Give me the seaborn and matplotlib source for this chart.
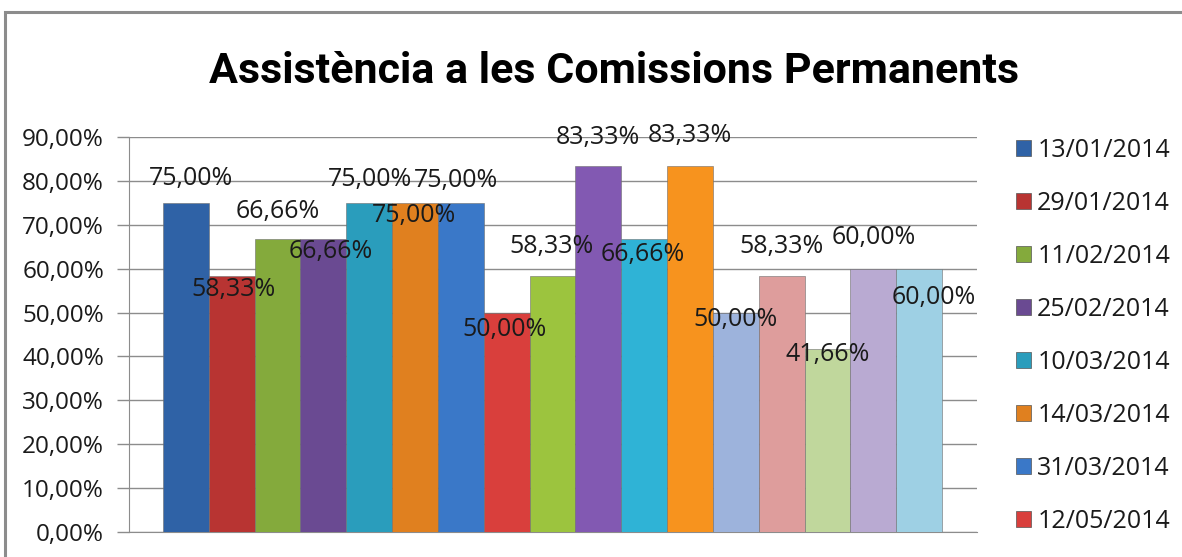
import matplotlib
matplotlib.use("Agg")
import matplotlib.pyplot as plt
import seaborn as sns
import pandas as pd
from matplotlib.patches import Rectangle
from matplotlib.ticker import FuncFormatter

# ---- data ----
legend_dates = ["13/01/2014", "29/01/2014", "11/02/2014", "25/02/2014",
                "10/03/2014", "14/03/2014", "31/03/2014", "12/05/2014"]
bar_ids = [f"S{i+1}" for i in range(17)]
values = [75.00, 58.33, 66.66, 66.66, 75.00, 75.00, 75.00, 50.00, 58.33,
          83.33, 66.66, 83.33, 50.00, 58.33, 41.66, 60.00, 60.00]
y_ticks = [0, 10, 20, 30, 40, 50, 60, 70, 80, 90]
title = "Assistència a les Comissions Permanents"

# ---- style ----
colors = ["#2F62A6", "#B83432", "#84AA3C", "#6A4A92", "#2A9DBC", "#E0801F",
          "#3A78C8", "#D93F3C", "#9CC43E", "#8259B2", "#2FB3D6", "#F7931E",
          "#9DB3DC", "#DE9D9C", "#C0D79C", "#B9AAD2", "#9ED0E4"]
label_dx = [5, 2, 0, 7, 1, -1, -5, -2, -1, -1, -1, 0, 0, 0, 0, 0, 15]
label_dy = [24, -14, 28, -12, 23, -13, 22, -17, 29, 29, -15, 31, -7, 29, -5, 31, -29]
FONT = ["Open Sans", "DejaVu Sans"]
TXT = "#1A1A1A"

W, H = 1182, 557
plt.rcParams["font.family"] = FONT
fig = plt.figure(figsize=(W / 100, H / 100), dpi=100)
fig.patch.set_facecolor("white")

fig.patches.append(Rectangle((5 / W, -0.1), 1.2, (H - 12) / H + 0.1,
                             transform=fig.transFigure, fill=False,
                             edgecolor="#8C8C8C", linewidth=2.2))

ax_left, ax_right = 129 / W, 977 / W
ax_bottom, ax_top = 1 - 532 / H, 1 - 137 / H
ax = fig.add_axes([ax_left, ax_bottom, ax_right - ax_left, ax_top - ax_bottom])

df = pd.DataFrame({"id": bar_ids, "value": values})
sns.barplot(data=df, x="id", y="value", hue="id", palette=colors,
            width=1.0, legend=False, ax=ax, saturation=1.0,
            edgecolor="#6E6E6E", linewidth=0.4, zorder=3)

ax.set_ylim(0, 90)
ax.set_xlim(-0.5 - 0.74, len(values) - 0.5 + 0.76)
ax.set_yticks(y_ticks)
ax.yaxis.set_major_formatter(FuncFormatter(lambda v, p: f"{v:.2f}%".replace(".", ",")))
ax.set_xticks([])
ax.set_xlabel("")
ax.set_ylabel("")
ax.grid(axis="y", color="#8C8C8C", linewidth=1.0, zorder=0)
ax.set_axisbelow(True)
for s in ["top", "right"]:
    ax.spines[s].set_visible(False)
ax.spines["left"].set_color("#8C8C8C")
ax.spines["bottom"].set_color("#8C8C8C")
ax.tick_params(axis="y", length=9, width=1.0, color="#8C8C8C",
               labelsize=17.5, labelcolor=TXT, pad=9)

for i, p in enumerate(ax.patches[:len(values)]):
    cx = p.get_x() + p.get_width() / 2
    ax.annotate(f"{values[i]:.2f}%".replace(".", ","), (cx, p.get_height()),
                xytext=(label_dx[i], label_dy[i]), textcoords="offset pixels",
                ha="center", va="center", fontsize=18, color=TXT,
                zorder=5, annotation_clip=False)

handles = [Rectangle((0, 0), 1, 1, facecolor=colors[i], edgecolor="#555555", linewidth=0.5)
           for i in range(len(legend_dates))]
fig.legend(handles, legend_dates, loc="upper left",
           bbox_to_anchor=(1016 / W, 1 - 138 / H), frameon=False,
           fontsize=18, handlelength=0.6, handleheight=0.6,
           handletextpad=0.25, labelspacing=1.12, borderaxespad=0, borderpad=0,
           labelcolor=TXT)

fig.text(614 / W, 1 - 83 / H, title, ha="center", va="baseline",
         fontsize=31, fontweight="bold", family=["Roboto", "DejaVu Sans"], color="black")

fig.savefig("out.png", dpi=100)
